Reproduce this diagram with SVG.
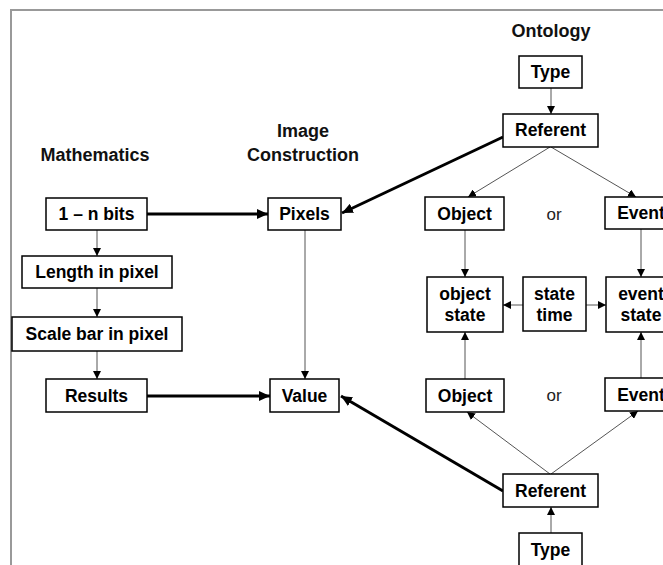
<svg xmlns="http://www.w3.org/2000/svg" width="663" height="565" viewBox="0 0 663 565">
<defs>
<marker id="ah" markerUnits="userSpaceOnUse" markerWidth="9" markerHeight="8" refX="8" refY="4" orient="auto"><path d="M0,0 L8,4 L0,8 z" fill="#000"/></marker>
<marker id="ahb" markerUnits="userSpaceOnUse" markerWidth="12" markerHeight="10" refX="11" refY="5" orient="auto"><path d="M0,0 L11,5 L0,10 z" fill="#000"/></marker>
<style>
.box{fill:#fff;stroke:#000;stroke-width:1.5}
.t{font-family:"Liberation Sans",Arial,sans-serif;font-weight:bold;font-size:17.5px;fill:#000;text-anchor:middle}
.h{font-family:"Liberation Sans",Arial,sans-serif;font-weight:bold;font-size:18px;fill:#111;text-anchor:middle}
.or{font-family:"Liberation Sans",Arial,sans-serif;font-size:17px;fill:#222;text-anchor:middle}
.thin{stroke:#555;stroke-width:1;fill:none;marker-end:url(#ah)}
.thick{stroke:#000;stroke-width:3;fill:none;marker-end:url(#ahb)}
</style>
</defs>
<rect width="663" height="565" fill="#fff"/>
<path d="M11,565 V10 H663" fill="none" stroke="#999" stroke-width="2"/>
<g id="headings">
<text class="h" x="551" y="37">Ontology</text>
<text class="h" x="95" y="161">Mathematics</text>
<text class="h" x="303" y="137">Image</text>
<text class="h" x="303" y="161">Construction</text>
<text class="or" x="554" y="220">or</text>
<text class="or" x="554" y="401">or</text>
</g>
<g id="connectors">
<line class="thin" x1="551" y1="88" x2="551" y2="114"/>
<line class="thin" x1="550" y1="147" x2="468" y2="197"/>
<line class="thin" x1="551" y1="147" x2="636" y2="197"/>
<line class="thin" x1="465" y1="230" x2="465" y2="277"/>
<line class="thin" x1="641" y1="229" x2="641" y2="277"/>
<line class="thin" x1="523" y1="305" x2="503" y2="305"/>
<line class="thin" x1="586" y1="305" x2="606" y2="305"/>
<line class="thin" x1="465" y1="379" x2="465" y2="332"/>
<line class="thin" x1="641" y1="378" x2="641" y2="332"/>
<line class="thin" x1="550" y1="474" x2="467" y2="412"/>
<line class="thin" x1="551" y1="474" x2="638" y2="411"/>
<line class="thin" x1="551" y1="533" x2="551" y2="507"/>
<line class="thin" x1="305" y1="230" x2="305" y2="379"/>
<line class="thin" x1="97" y1="230" x2="97" y2="256"/>
<line class="thin" x1="97" y1="288" x2="97" y2="317"/>
<line class="thin" x1="97" y1="351" x2="97" y2="379"/>
<line class="thick" x1="503" y1="137" x2="342" y2="213"/>
<line class="thick" x1="503" y1="491" x2="341" y2="396"/>
<line class="thick" x1="147" y1="214" x2="268" y2="214"/>
<line class="thick" x1="147" y1="396" x2="270" y2="396"/>
</g>
<g id="bits"><rect class="box" x="46" y="198" width="101" height="32"/><text class="t" x="96.5" y="220">1 – n bits</text></g>
<g id="length"><rect class="box" x="22" y="256" width="150" height="32"/><text class="t" x="97" y="278">Length in pixel</text></g>
<g id="scalebar"><rect class="box" x="12" y="317" width="170" height="34"/><text class="t" x="97" y="340">Scale bar in pixel</text></g>
<g id="results"><rect class="box" x="46" y="379" width="101" height="33"/><text class="t" x="96.5" y="402">Results</text></g>
<g id="pixels"><rect class="box" x="268" y="198" width="73" height="32"/><text class="t" x="304.5" y="220">Pixels</text></g>
<g id="value"><rect class="box" x="270" y="379" width="69" height="33"/><text class="t" x="304.5" y="402">Value</text></g>
<g id="type-top"><rect class="box" x="519" y="56" width="63" height="32"/><text class="t" x="550.5" y="78">Type</text></g>
<g id="referent-top"><rect class="box" x="503" y="114" width="95" height="33"/><text class="t" x="550.5" y="136">Referent</text></g>
<g id="object-top"><rect class="box" x="425" y="197" width="79" height="33"/><text class="t" x="464.5" y="219.5">Object</text></g>
<g id="event-top"><rect class="box" x="605" y="197" width="75" height="32"/><text class="t" x="641" y="219">Event</text></g>
<g id="object-state"><rect class="box" x="427" y="277" width="76" height="55"/><text class="t" x="465" y="300">object</text><text class="t" x="465" y="321">state</text></g>
<g id="state-time"><rect class="box" x="523" y="277" width="63" height="54"/><text class="t" x="554.5" y="300">state</text><text class="t" x="554.5" y="321">time</text></g>
<g id="event-state"><rect class="box" x="606" y="277" width="75" height="55"/><text class="t" x="641" y="300">event</text><text class="t" x="641" y="321">state</text></g>
<g id="object-bottom"><rect class="box" x="426" y="379" width="78" height="33"/><text class="t" x="465" y="401.5">Object</text></g>
<g id="event-bottom"><rect class="box" x="605" y="378" width="75" height="33"/><text class="t" x="641" y="400.5">Event</text></g>
<g id="referent-bottom"><rect class="box" x="503" y="474" width="95" height="33"/><text class="t" x="550.5" y="497">Referent</text></g>
<g id="type-bottom"><rect class="box" x="519" y="533" width="63" height="33"/><text class="t" x="550.5" y="556">Type</text></g>
</svg>
